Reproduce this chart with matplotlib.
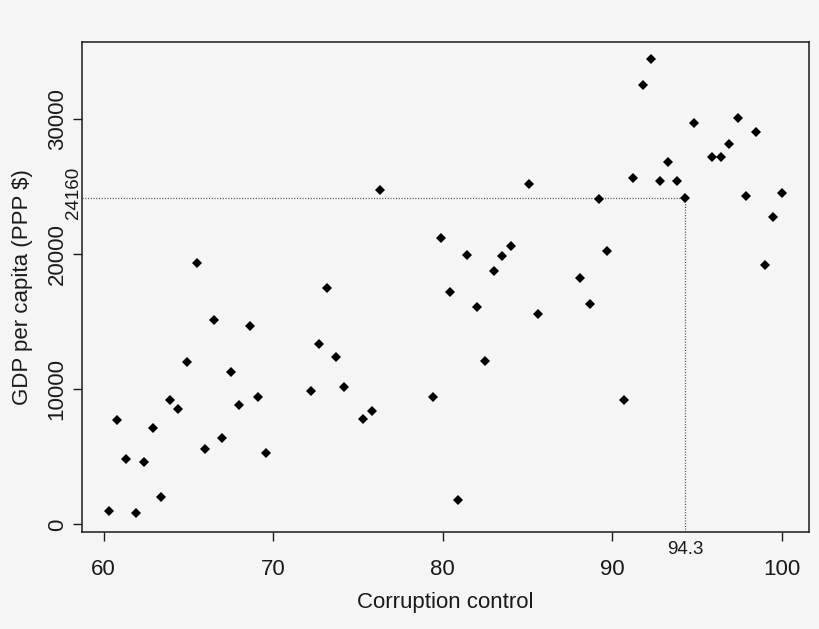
import matplotlib
matplotlib.use("Agg")
import matplotlib.pyplot as plt

# Data
corruption_control = [
    65.5, 66.5, 68.6, 64.9, 67.5, 63.9, 64.4, 69.1, 68.0, 60.8,
    62.9, 61.3, 62.4, 66.0, 67.0, 69.6, 63.4, 60.3, 61.9,
    76.3, 85.1, 79.9, 81.4, 84.0, 83.5, 83.0, 73.2, 80.4, 82.0,
    85.6, 72.7, 73.7, 82.5, 72.2, 74.2, 79.4, 75.8, 75.3, 80.9,
    92.3, 91.8, 94.8, 97.4, 98.5, 96.9, 95.9, 96.4, 93.3, 91.2,
    92.8, 93.8, 94.3, 89.2, 97.9, 100.0, 99.5, 89.7, 88.1, 88.7,
    99.0, 90.7,
]
gdp_per_capita = [
    19300, 15100, 14700, 12000, 11300, 9200, 8500, 9450, 8800, 7750,
    7130, 4870, 4620, 5580, 6390, 5280, 2000, 1020, 820,
    24700, 25200, 21200, 19900, 20550, 19850, 18750, 17450, 17150, 16100,
    15550, 13350, 12350, 12050, 9900, 10180, 9450, 8420, 7830, 1830,
    34400, 32500, 29700, 30050, 29050, 28150, 27200, 27200, 26800, 25600,
    25400, 25400, 24160, 24050, 24250, 24480, 22700, 20200, 18200, 16300,
    19200, 9230,
]
x_ticks = [60, 70, 80, 90, 100]
y_ticks = [0, 10000, 20000, 30000]
ref_x = 94.3
ref_y = 24160
x_label = "Corruption control"
y_label = "GDP per capita (PPP $)"

BG = "#f5f5f5"
INK = "#1a1a1a"

plt.rcParams["font.family"] = ["Liberation Sans", "DejaVu Sans"]

fig = plt.figure(figsize=(8.2, 6.29), dpi=100, facecolor=BG)
ax = fig.add_axes([82 / 820, 1 - 532 / 629, 727 / 820, 490 / 629])
ax.set_facecolor(BG)

ax.plot(corruption_control, gdp_per_capita, linestyle="none", marker="D",
        markersize=4.6, markeredgewidth=0, color="black", zorder=3)

ax.set_xlim(58.72, 101.6)
ax.set_ylim(-560, 35670)

x0 = ax.get_xlim()[0]
y0 = ax.get_ylim()[0]
dot = (0, (0.9, 1.3))
ax.plot([x0, ref_x], [ref_y, ref_y], color="#555555", linewidth=0.9,
        linestyle=dot, zorder=2)
ax.plot([ref_x, ref_x], [y0, ref_y], color="#555555", linewidth=0.9,
        linestyle=dot, zorder=2)

ax.set_xticks(x_ticks)
ax.set_yticks(y_ticks)
ax.set_xticklabels([str(v) for v in x_ticks])
ax.set_yticklabels([str(v) for v in y_ticks])
ax.tick_params(axis="both", direction="out", length=6.8, width=1.0,
               colors=INK, labelsize=16)
ax.tick_params(axis="x", pad=12.5)
ax.tick_params(axis="y", pad=3.5, labelrotation=90)
for lbl in ax.get_yticklabels():
    lbl.set_va("center")

for s in ax.spines.values():
    s.set_linewidth(1.1)
    s.set_color(INK)

ax.set_xlabel(x_label, fontsize=16, color=INK)
ax.set_ylabel(y_label, fontsize=16, color=INK)
ax.xaxis.set_label_coords(0.5, -0.122)
ax.yaxis.set_label_coords(-0.0674, 0.5)

ax.annotate(f"{ref_x}", xy=(ref_x, 0), xycoords=("data", "axes fraction"),
            xytext=(0, -12.5), textcoords="offset points", ha="center",
            va="center", fontsize=13.5, color=INK)
ax.annotate(f"{ref_y}", xy=(0, ref_y), xycoords=("axes fraction", "data"),
            xytext=(-6.3, 3.2), textcoords="offset points", ha="center",
            va="center", rotation=90, fontsize=13.5, color=INK)

fig.savefig("out.png", dpi=100, facecolor=BG)
